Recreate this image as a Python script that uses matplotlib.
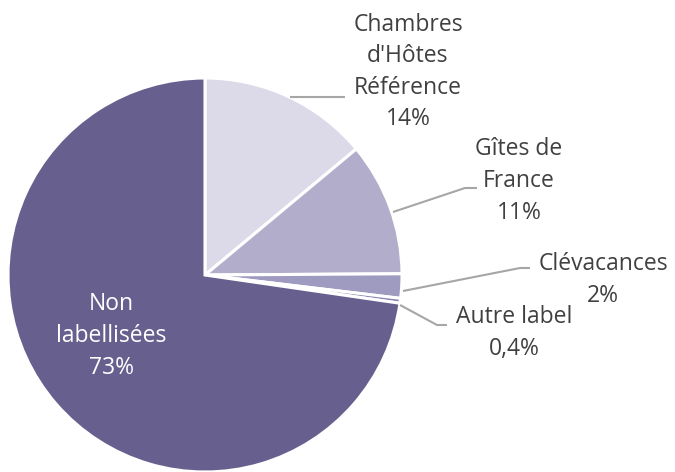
import matplotlib
matplotlib.use("Agg")
import matplotlib.pyplot as plt

labels = ["Chambres\nd'Hôtes\nRéférence", "Gîtes de\nFrance", "Clévacances", "Autre label", "Non\nlabellisées"]
values = [14, 11, 2, 0.4, 73]
pct_labels = ["14%", "11%", "2%", "0,4%", "73%"]
colors = ["#DCDAE9", "#B2ADCB", "#9F9AC0", "#8A84B0", "#67608F"]

W, H = 675, 472
fig = plt.figure(figsize=(W / 100, H / 100), dpi=100)
ax = fig.add_axes([0, 0, 1, 1])

cx, cy, r = 205, H - 275, 197
ax.pie(values, colors=colors, startangle=90, counterclock=False,
       center=(cx, cy), radius=r, frame=True,
       wedgeprops=dict(edgecolor="white", linewidth=2.2))
ax.set_xlim(0, W)
ax.set_ylim(0, H)
ax.set_aspect("equal")
ax.axis("off")

font = dict(family=["Open Sans", "DejaVu Sans"], fontsize=16.5, color="#404040",
            ha="center", va="center", linespacing=1.42)
lc = "#A6A6A6"

# label positions (pixel coords) and leader paths
layout = [
    dict(text=(408, 72), path=[(290, 97), (345, 97)]),
    dict(text=(519, 181), path=[(393, 212), (465, 188), (477, 188)]),
    dict(text=(603, 280), path=[(403, 291), (520, 268), (530, 268)]),
    dict(text=(514, 333), path=[(400, 305), (437, 325), (447, 325)]),
    dict(text=(111, 336), path=None),
]

for lab, pct, lay in zip(labels, pct_labels, layout):
    tx, ty = lay["text"][0], H - lay["text"][1]
    txt = lab + "\n" + pct
    if lay["path"] is None:
        ax.text(tx, ty, txt, **{**font, "color": "white"})
    else:
        ax.text(tx, ty, txt, **font)
        xs = [p[0] for p in lay["path"]]
        ys = [H - p[1] for p in lay["path"]]
        ax.plot(xs, ys, color=lc, lw=1.5, solid_capstyle="butt")

fig.savefig("out.png", dpi=100)
